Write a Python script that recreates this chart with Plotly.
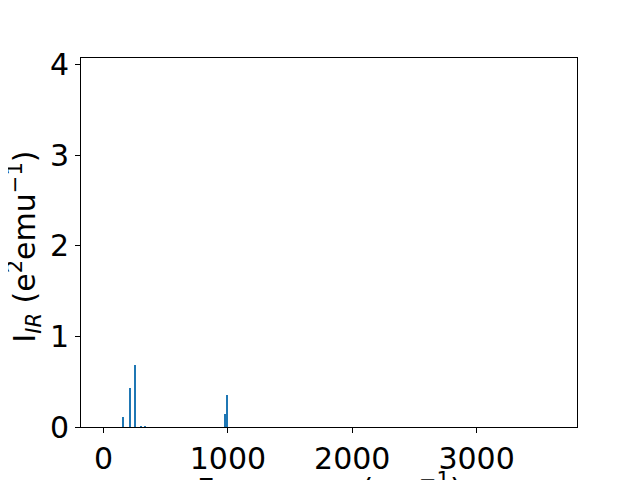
import plotly.graph_objects as go

# Data
frequencies = [153, 210, 250, 299, 331, 977, 994]
intensities = [0.11, 0.43, 0.685, 0.01, 0.01, 0.145, 0.353]

x_ticks = [0, 1000, 2000, 3000]
y_ticks = [0, 1, 2, 3, 4]

FONT = "DejaVu Sans"
FS = 30

fig = go.Figure()
fig.add_trace(go.Bar(
    x=frequencies, y=intensities, width=[10] * len(frequencies),
    marker=dict(color="#1f77b4", line=dict(width=0)),
))

# the page body has an 8px margin, so the figure is offset by 8px
fig.update_layout(
    width=640, height=480,
    margin=dict(l=73, r=71, t=50, b=61),
    paper_bgcolor="white", plot_bgcolor="white",
    showlegend=False,
    font=dict(family=FONT, size=FS, color="black"),
    bargap=0,
)
fig.update_xaxes(
    range=[-182, 3808], tickvals=x_ticks, ticktext=[str(v) for v in x_ticks],
    showgrid=False, zeroline=False,
    showline=True, linecolor="black", linewidth=1, mirror=True,
    ticks="outside", ticklen=5, tickcolor="black", tickwidth=1,
    tickfont=dict(family=FONT, size=FS), automargin=False,
)
fig.update_yaxes(
    range=[0, 4.074], tickvals=y_ticks, ticktext=[str(v) for v in y_ticks],
    showgrid=False, zeroline=False,
    showline=True, linecolor="black", linewidth=1, mirror=True,
    ticks="outside", ticklen=5, tickcolor="black", tickwidth=1,
    tickfont=dict(family=FONT, size=FS), automargin=False,
)

fig.add_annotation(
    text="Frequency (cm<sup>−1</sup>)", xref="paper", yref="paper",
    x=0.5, y=-0.106, xanchor="center", yanchor="top", showarrow=False,
    font=dict(family=FONT, size=FS, color="black"),
)
fig.add_annotation(
    text="I<sub><i>IR</i></sub> (e<sup>2</sup>emu<sup>−1</sup>)", xref="paper", yref="paper",
    x=-0.114, y=0.49, xanchor="center", yanchor="middle", showarrow=False,
    textangle=-90,
    font=dict(family=FONT, size=FS, color="black"),
)

fig.write_html("out.html")
